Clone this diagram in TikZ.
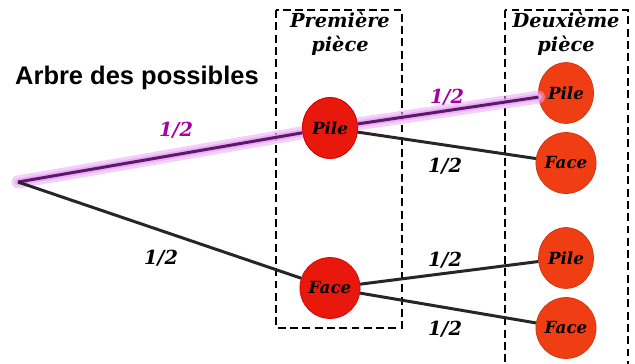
\documentclass[tikz,border=0pt]{standalone}
\usepackage{fontspec}
\usepackage{tikz}
\usepackage{xcolor}
\usetikzlibrary{shapes.geometric}
\newfontfamily\titlefont{Liberation Sans}
\newfontfamily\piecefont{DejaVu Serif}
\definecolor{coinred}{HTML}{E8180C}
\definecolor{coinorange}{HTML}{F03E14}
\definecolor{pathglow}{HTML}{EAA8F4}
\definecolor{pathline}{HTML}{5A1A6A}

\begin{document}
\begin{tikzpicture}[x=0.02cm,y=-0.02cm,
    coin/.style={ellipse,draw=red!85!black,fill=coinred,minimum width=1.1cm,
      minimum height=1.22cm,inner sep=0pt,
      font=\piecefont\bfseries\itshape\fontsize{9.5}{10}\selectfont},
    coin2/.style={coin,fill=coinorange,draw=coinorange!85!black},
    branch/.style={line width=1.7pt,black!85},
    box/.style={line width=0.8pt,dash pattern=on 4.5pt off 2.5pt},
    proba/.style={font=\piecefont\bfseries\itshape\fontsize{11}{12}\selectfont},
    header/.style={align=center,font=\piecefont\bfseries\itshape\fontsize{11}{13.5}\selectfont}]
  % Frame of the image — also clips the open bottom of the second box
  \clip (0,0) rectangle (635,363);
  % Dashed boxes for each coin
  \draw[box] (276,10) rectangle (402,328);
  \draw[box] (505,10) rectangle (628,380);
  \node[header] (h1) at (340,34) {Première\\pièce};
  \node[header] (h2) at (566,34) {Deuxième\\pièce};
  \node[font=\titlefont\bfseries\fontsize{14.5}{16}\selectfont,anchor=west] (title) at (9,78) {Arbre des possibles};
  % Tree nodes
  \coordinate (root) at (18,182);
  \node[coin] (p1) at (330,128) {Pile};
  \node[coin] (f1) at (330,288) {Face};
  \node[coin2] (pp) at (566,93) {Pile};
  \node[coin2] (pf) at (566,163) {Face};
  \node[coin2] (fp) at (566,258) {Pile};
  \node[coin2] (ff) at (566,328) {Face};
  % Highlighted path Pile-Pile
  \draw[pathglow,line width=0.26cm,line cap=round,opacity=0.55] (root) -- (p1.center) -- (pp);
  \draw[pathglow,line width=0.14cm,line cap=round,opacity=0.8] (root) -- (p1.center) -- (pp);
  \draw[branch,pathline] (root) -- (p1);
  \draw[branch,pathline] (p1) -- (pp);
  \node[coin] at (p1) {Pile};
  % Other branches
  \draw[branch] (root) -- (f1);
  \draw[branch] (p1) -- (pf);
  \draw[branch] (f1) -- (fp);
  \draw[branch] (f1) -- (ff);
  % Probabilities
  \node[proba,text=violet!70!magenta] (l1) at (176,130) {1/2};
  \node[proba,text=violet!70!magenta] (l2) at (447,97) {1/2};
  \foreach \name/\x/\y in {l3/445/166, l4/161/258, l5/445/260, l6/445/329}
    \node[proba] (\name) at (\x,\y) {1/2};
\end{tikzpicture}
\end{document}
